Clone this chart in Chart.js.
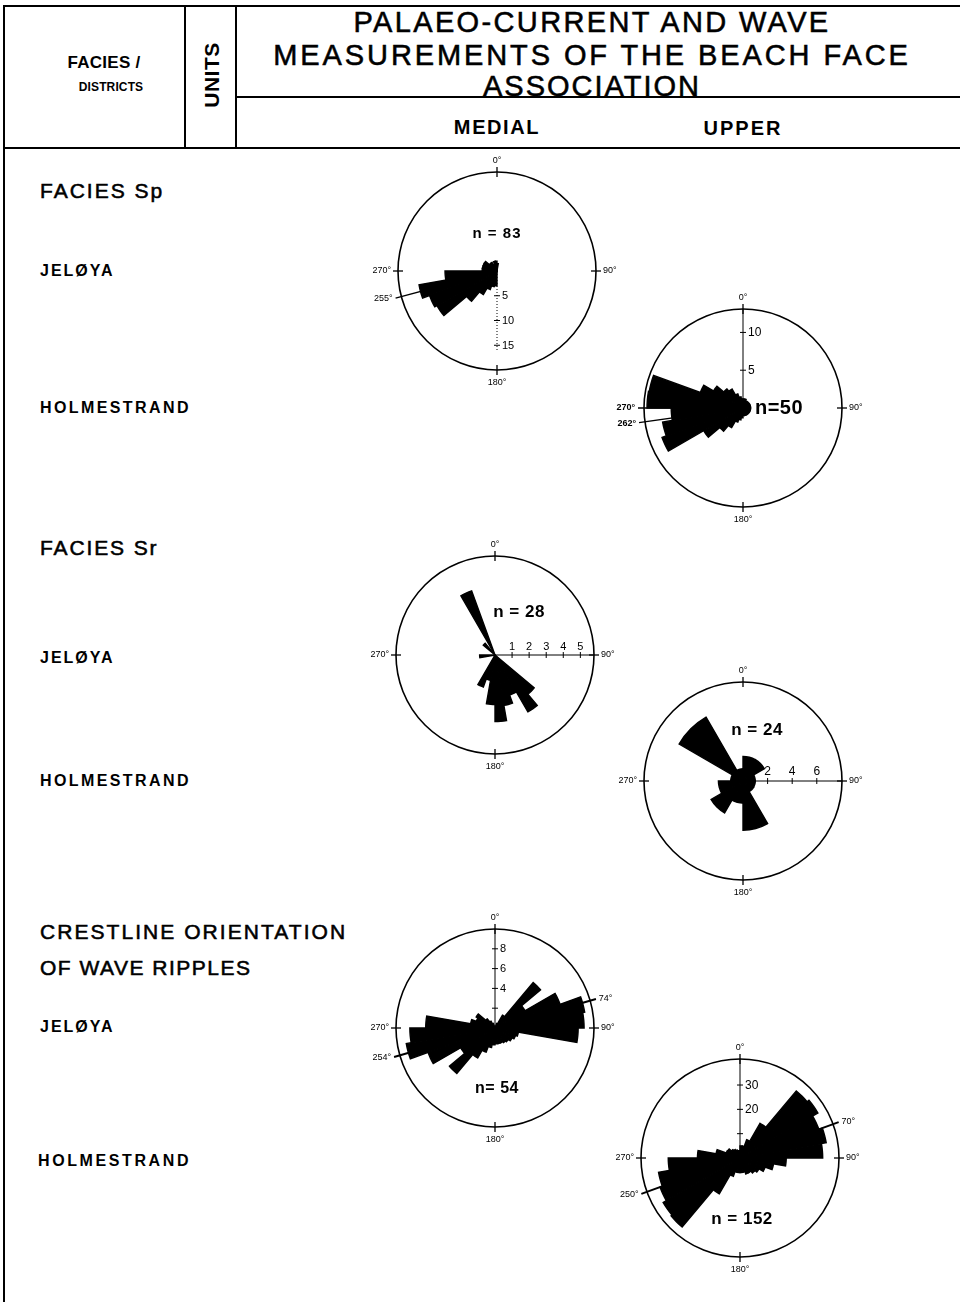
<!DOCTYPE html>
<html lang="en">
<head>
<meta charset="utf-8">
<title>Palaeo-current and wave measurements of the beach face association</title>
<script src="https://cdn.jsdelivr.net/npm/chart.js@4.4.1/dist/chart.umd.min.js"></script>
<style>
  html, body { margin: 0; padding: 0; background: #fff; }
  #sheet { position: relative; width: 960px; height: 1302px; overflow: hidden;
           font-family: "Liberation Sans", Arial, Helvetica, sans-serif; color: #000; }
  .rule { position: absolute; background: #000; }
  .txt { position: absolute; white-space: nowrap; line-height: 1; transform: translateY(-50%); }
  .c { transform: translate(-50%, -50%); }
  .b { font-weight: bold; }
  .m { -webkit-text-stroke: 0.55px #000; }
  .rose { position: absolute; width: 300px; height: 300px; }
  .rose canvas { display: block; }
</style>
</head>
<body>
<div id="sheet">
  <!-- table frame -->
  <div class="rule" style="left:3px;top:5px;width:957px;height:2px"></div>
  <div class="rule" style="left:3px;top:5px;width:2px;height:1297px"></div>
  <div class="rule" style="left:3px;top:147px;width:957px;height:2px"></div>
  <div class="rule" style="left:184px;top:5px;width:2px;height:143px"></div>
  <div class="rule" style="left:235px;top:5px;width:2px;height:143px"></div>
  <div class="rule" style="left:235px;top:96px;width:725px;height:2px"></div>

  <!-- header -->
  <div class="txt c b" style="left:104px;top:62px;font-size:17px" data-w="73">FACIES /</div>
  <div class="txt c b" style="left:111px;top:87px;font-size:12px" data-w="64">DISTRICTS</div>
  <div class="txt b" style="left:211px;top:75px;font-size:21px;transform:translate(-50%,-50%) rotate(-90deg)" data-w="65">UNITS</div>
  <div class="txt c m" style="left:592px;top:22px;font-size:29px" data-w="475">PALAEO-CURRENT AND WAVE</div>
  <div class="txt c m" style="left:592px;top:55px;font-size:29px" data-w="635">MEASUREMENTS OF THE BEACH FACE</div>
  <div class="txt c m" style="left:592px;top:86px;font-size:29px" data-w="216">ASSOCIATION</div>
  <div class="txt c b" style="left:497px;top:127px;font-size:20px" data-w="85">MEDIAL</div>
  <div class="txt c b" style="left:743px;top:128px;font-size:20px" data-w="77">UPPER</div>

  <!-- facies / districts column -->
  <div class="txt m" style="left:40px;top:190px;font-size:21px" data-w="122">FACIES Sp</div>
  <div class="txt b" style="left:40px;top:271px;font-size:16px" data-w="73">JELØYA</div>
  <div class="txt b" style="left:40px;top:408px;font-size:16px" data-w="148">HOLMESTRAND</div>
  <div class="txt m" style="left:40px;top:547px;font-size:21px" data-w="117">FACIES Sr</div>
  <div class="txt b" style="left:40px;top:658px;font-size:16px" data-w="73">JELØYA</div>
  <div class="txt b" style="left:40px;top:781px;font-size:16px" data-w="148">HOLMESTRAND</div>
  <div class="txt m" style="left:40px;top:931px;font-size:21px" data-w="305">CRESTLINE ORIENTATION</div>
  <div class="txt m" style="left:40px;top:967px;font-size:21px" data-w="210">OF WAVE RIPPLES</div>
  <div class="txt b" style="left:40px;top:1027px;font-size:16px" data-w="73">JELØYA</div>
  <div class="txt b" style="left:38px;top:1161px;font-size:16px" data-w="150">HOLMESTRAND</div>

  <!-- rose diagrams -->
  <div class="rose" id="roseSpJeloya"><canvas width="300" height="300"></canvas></div>
  <div class="rose" id="roseSpHolmestrand"><canvas width="300" height="300"></canvas></div>
  <div class="rose" id="roseSrJeloya"><canvas width="300" height="300"></canvas></div>
  <div class="rose" id="roseSrHolmestrand"><canvas width="300" height="300"></canvas></div>
  <div class="rose" id="roseCrestJeloya"><canvas width="300" height="300"></canvas></div>
  <div class="rose" id="roseCrestHolmestrand"><canvas width="300" height="300"></canvas></div>
</div>

<script>
// ---- Sector frequencies, clockwise from north (10° classes; Sr Holmestrand uses 30° classes) ----
const spJeloyaCounts = [1.5, 0, 0, 0, 0, 0, 0, 0, 0, 0, 0, 0, 0, 0, 0, 0, 0, 0,
  3, 3.2, 4, 5.5, 8, 14, 14.5, 16, 10.5, 3, 3, 3, 3, 2, 2, 1.5, 2, 2];
const spHolmestrandCounts = [1.2, 1.2, 1, 1, 1, 1, 1, 1, 1, 1, 1, 1, 1, 1, 1, 1, 1, 1,
  1.3, 1.6, 2, 3, 4, 6, 11.4, 10.8, 9.5, 12.7, 12.6, 6, 4.5, 3.3, 2.9, 2, 1.5, 1.2];
const srJeloyaCounts = [0, 0, 0, 0, 0, 0, 0, 0, 0, 0, 0, 0,
  0, 3.0, 3.85, 2.5, 3.0, 3.9, 2.9, 1.5, 2.0, 0, 0, 0, 0, 0, 0.9, 0, 0, 0, 0, 0.9, 0, 4.0, 0, 0];
const srHolmestrandCounts = [2, 2, 1, 1, 1, 4, 1.8, 3, 2, 1, 6, 1];
const crestJeloyaCounts = [0, 0, 0.5, 1.5, 6.0, 3.5, 7.0, 9.2, 9.0, 8.4, 2.4, 2.2, 2.0, 1.8, 1.7, 1.6, 1.6, 1.6,
  1.7, 2.0, 2.6, 3.5, 6.0, 4.0, 7.2, 9.1, 8.6, 7.0, 2.5, 2.0, 2.2, 1.2, 0.8, 0.5, 0, 0];
const crestHolmestrandCounts = [5, 5, 8, 16.5, 36, 37, 34.5, 36, 34, 19, 14, 11, 9, 8, 7, 7, 6, 6,
  6, 6, 8, 17, 37, 36.5, 35, 34, 29.5, 17.5, 10, 6, 5.8, 4.5, 4, 3.5, 3, 3];

// ---- Value at the outer circle of each rose ----
const spJeloyaMax = 20;
const spHolmestrandMax = 13.1;
const srJeloyaMax = 5.8;
const srHolmestrandMax = 8.05;
const crestJeloyaMax = 10;
const crestHolmestrandMax = 40.7;

// ---- Graduations on the value axis (ticks) and which of them carry a number ----
const spJeloyaTicks = [5, 10, 15];
const spJeloyaTickLabels = [5, 10, 15];
const spHolmestrandTicks = [5, 10];
const spHolmestrandTickLabels = [5, 10];
const srJeloyaTicks = [1, 2, 3, 4, 5];
const srJeloyaTickLabels = [1, 2, 3, 4, 5];
const srHolmestrandTicks = [2, 4, 6];
const srHolmestrandTickLabels = [2, 4, 6];
const crestJeloyaTicks = [2, 4, 6, 8];
const crestJeloyaTickLabels = [4, 6, 8];
const crestHolmestrandTicks = [10, 20, 30];
const crestHolmestrandTickLabels = [20, 30];

// ---- Compass points, marked directions and sample sizes ----
const compassBearings = [0, 90, 180, 270];
const spJeloyaMarks = [255];
const spHolmestrandMarks = [270, 262];
const crestJeloyaMarks = [74, 254];
const crestHolmestrandMarks = [70, 250];
const sampleSizes = { spJeloya: 83, spHolmestrand: 50, srJeloya: 28, srHolmestrand: 24, crestJeloya: 54, crestHolmestrand: 152 };

// ---- Header / label letter-spacing so each line spans its column width ----
document.querySelectorAll('[data-w]').forEach(el => {
  el.style.letterSpacing = '0px';
  const w0 = el.offsetWidth;
  const n = el.textContent.length;
  const ls = (parseFloat(el.dataset.w) - w0) / Math.max(1, n - 1);
  el.style.letterSpacing = ls + 'px';
  el.style.marginRight = (-ls) + 'px';
});

const FONT = '"Liberation Sans", Arial, Helvetica, sans-serif';

// Draws the graduated axis, compass ticks, marked directions and the sample size note
const roseDecor = {
  id: 'roseDecor',
  afterDraw(chart, _args, o) {
    const s = chart.scales.r;
    const ctx = chart.ctx;
    const cx = s.xCenter, cy = s.yCenter;
    const R = s.getDistanceFromCenterForValue(s.max);
    const at = (b, r) => {
      const a = b * Math.PI / 180;
      return { x: cx + r * Math.sin(a), y: cy - r * Math.cos(a) };
    };
    ctx.save();
    ctx.strokeStyle = '#000';
    ctx.fillStyle = '#000';

    // value axis
    const ax = o.axis;
    const end = ax.end != null ? s.getDistanceFromCenterForValue(ax.end) : R;
    const pe = at(ax.bearing, end);
    ctx.lineWidth = 1;
    ctx.setLineDash(ax.dotted ? [1, 2] : []);
    ctx.beginPath(); ctx.moveTo(cx, cy); ctx.lineTo(pe.x, pe.y); ctx.stroke();
    ctx.setLineDash([]);
    ctx.font = `${ax.fontSize}px ${FONT}`;
    const pr = (ax.bearing + 90) * Math.PI / 180;
    const ox = 3 * Math.sin(pr), oy = -3 * Math.cos(pr);
    ax.ticks.forEach(v => {
      const p = at(ax.bearing, s.getDistanceFromCenterForValue(v));
      ctx.beginPath(); ctx.moveTo(p.x - ox, p.y - oy); ctx.lineTo(p.x + ox, p.y + oy); ctx.stroke();
      if (ax.labels.includes(v)) {
        if (ax.bearing % 180 === 0) {
          ctx.textAlign = 'left'; ctx.textBaseline = 'middle';
          ctx.fillText(String(v), p.x + 5, p.y + 0.5);
        } else {
          ctx.textAlign = 'center'; ctx.textBaseline = 'bottom';
          ctx.fillText(String(v), p.x, p.y - 3);
        }
      }
    });

    // compass points
    ctx.lineWidth = 1.3;
    ctx.font = `${o.compassSize}px ${FONT}`;
    o.compass.forEach(b => {
      const a = at(b, R - 5), c = at(b, R + 5);
      ctx.beginPath(); ctx.moveTo(a.x, a.y); ctx.lineTo(c.x, c.y); ctx.stroke();
      const t = b + '°';
      const p = at(b, R + 7);
      if (b === 0) { ctx.textAlign = 'center'; ctx.textBaseline = 'bottom'; ctx.fillText(t, p.x, p.y); }
      else if (b === 180) { ctx.textAlign = 'center'; ctx.textBaseline = 'top'; ctx.fillText(t, p.x, p.y + 1); }
      else if (b === 90) { ctx.textAlign = 'left'; ctx.textBaseline = 'middle'; ctx.fillText(t, p.x, p.y); }
      else { ctx.textAlign = 'right'; ctx.textBaseline = 'middle'; ctx.fillText(t, p.x, p.y); }
    });

    // marked (mean) directions
    (o.marks || []).forEach(b => {
      ctx.lineWidth = o.markWidth;
      const p = at(b, R + 6);
      ctx.beginPath(); ctx.moveTo(cx, cy); ctx.lineTo(p.x, p.y); ctx.stroke();
      const q = at(b, R + 9);
      ctx.font = `${o.markBold ? 'bold ' : ''}${o.compassSize}px ${FONT}`;
      ctx.textAlign = Math.sin(b * Math.PI / 180) < 0 ? 'right' : 'left';
      ctx.textBaseline = 'middle';
      ctx.fillText(b + '°', q.x, q.y);
    });

    // sample size
    const nt = o.note;
    ctx.font = `bold ${nt.size}px ${FONT}`;
    ctx.letterSpacing = (nt.spacing || 0) + 'px';
    ctx.textAlign = 'center'; ctx.textBaseline = 'middle';
    ctx.fillText(nt.text, cx + nt.dx, cy + nt.dy);
    ctx.restore();
  }
};

function drawRose(id, counts, max, step, center, decor) {
  const wrap = document.getElementById(id);
  const canvas = wrap.querySelector('canvas');
  const width = 360 / counts.length;
  const chart = new Chart(canvas, {
    type: 'polarArea',
    data: {
      labels: counts.map((_, i) => `${i * width}–${(i + 1) * width}°`),
      datasets: [{
        data: counts, backgroundColor: '#000', borderColor: '#000',
        borderWidth: 1.4, borderJoinStyle: 'miter', borderAlign: 'center'
      }]
    },
    options: {
      responsive: false,
      animation: false,
      events: [],
      layout: { padding: 51 },
      plugins: { legend: { display: false }, tooltip: { enabled: false }, roseDecor: decor },
      scales: {
        r: {
          min: 0, max, startAngle: 0, beginAtZero: true,
          ticks: { display: false, stepSize: step },
          grid: {
            circular: true, lineWidth: 1.6,
            color: c => (c.tick && Math.abs(c.tick.value - max) < 1e-6) ? '#000' : 'rgba(0,0,0,0)'
          },
          angleLines: { display: false },
          pointLabels: { display: false }
        }
      }
    },
    plugins: [roseDecor]
  });
  const s = chart.scales.r;
  wrap.style.left = (center[0] - s.xCenter) + 'px';
  wrap.style.top = (center[1] - s.yCenter) + 'px';
  return chart;
}

drawRose('roseSpJeloya', spJeloyaCounts, spJeloyaMax, 5, [497, 271], {
  axis: { bearing: 180, ticks: spJeloyaTicks, labels: spJeloyaTickLabels, end: 16, dotted: true, fontSize: 11 },
  compass: compassBearings, compassSize: 9, marks: spJeloyaMarks, markWidth: 1.4, markBold: false,
  note: { text: `n = ${sampleSizes.spJeloya}`, dx: 0, dy: -37, size: 15, spacing: 1 }
});
drawRose('roseSpHolmestrand', spHolmestrandCounts, spHolmestrandMax, 5, [743, 408], {
  axis: { bearing: 0, ticks: spHolmestrandTicks, labels: spHolmestrandTickLabels, fontSize: 12 },
  compass: [0, 90, 180], compassSize: 9, marks: spHolmestrandMarks, markWidth: 1.4, markBold: true,
  note: { text: `n=${sampleSizes.spHolmestrand}`, dx: 36, dy: 0, size: 20, spacing: 0.5 }
});
drawRose('roseSrJeloya', srJeloyaCounts, srJeloyaMax, 1, [495, 655], {
  axis: { bearing: 90, ticks: srJeloyaTicks, labels: srJeloyaTickLabels, fontSize: 11 },
  compass: compassBearings, compassSize: 9, marks: [], markWidth: 1.4, markBold: false,
  note: { text: `n = ${sampleSizes.srJeloya}`, dx: 24, dy: -43, size: 17, spacing: 0.5 }
});
drawRose('roseSrHolmestrand', srHolmestrandCounts, srHolmestrandMax, 2, [743, 781], {
  axis: { bearing: 90, ticks: srHolmestrandTicks, labels: srHolmestrandTickLabels, fontSize: 12 },
  compass: compassBearings, compassSize: 9, marks: [], markWidth: 1.4, markBold: false,
  note: { text: `n = ${sampleSizes.srHolmestrand}`, dx: 14, dy: -51, size: 17, spacing: 0.5 }
});
drawRose('roseCrestJeloya', crestJeloyaCounts, crestJeloyaMax, 2, [495, 1028], {
  axis: { bearing: 0, ticks: crestJeloyaTicks, labels: crestJeloyaTickLabels, fontSize: 11 },
  compass: compassBearings, compassSize: 9, marks: crestJeloyaMarks, markWidth: 2, markBold: false,
  note: { text: `n= ${sampleSizes.crestJeloya}`, dx: 2, dy: 61, size: 16, spacing: 0.5 }
});
drawRose('roseCrestHolmestrand', crestHolmestrandCounts, crestHolmestrandMax, 10, [740, 1158], {
  axis: { bearing: 0, ticks: crestHolmestrandTicks, labels: crestHolmestrandTickLabels, fontSize: 12 },
  compass: compassBearings, compassSize: 9, marks: crestHolmestrandMarks, markWidth: 2, markBold: false,
  note: { text: `n = ${sampleSizes.crestHolmestrand}`, dx: 2, dy: 61, size: 17, spacing: 0.5 }
});
</script>
</body>
</html>
